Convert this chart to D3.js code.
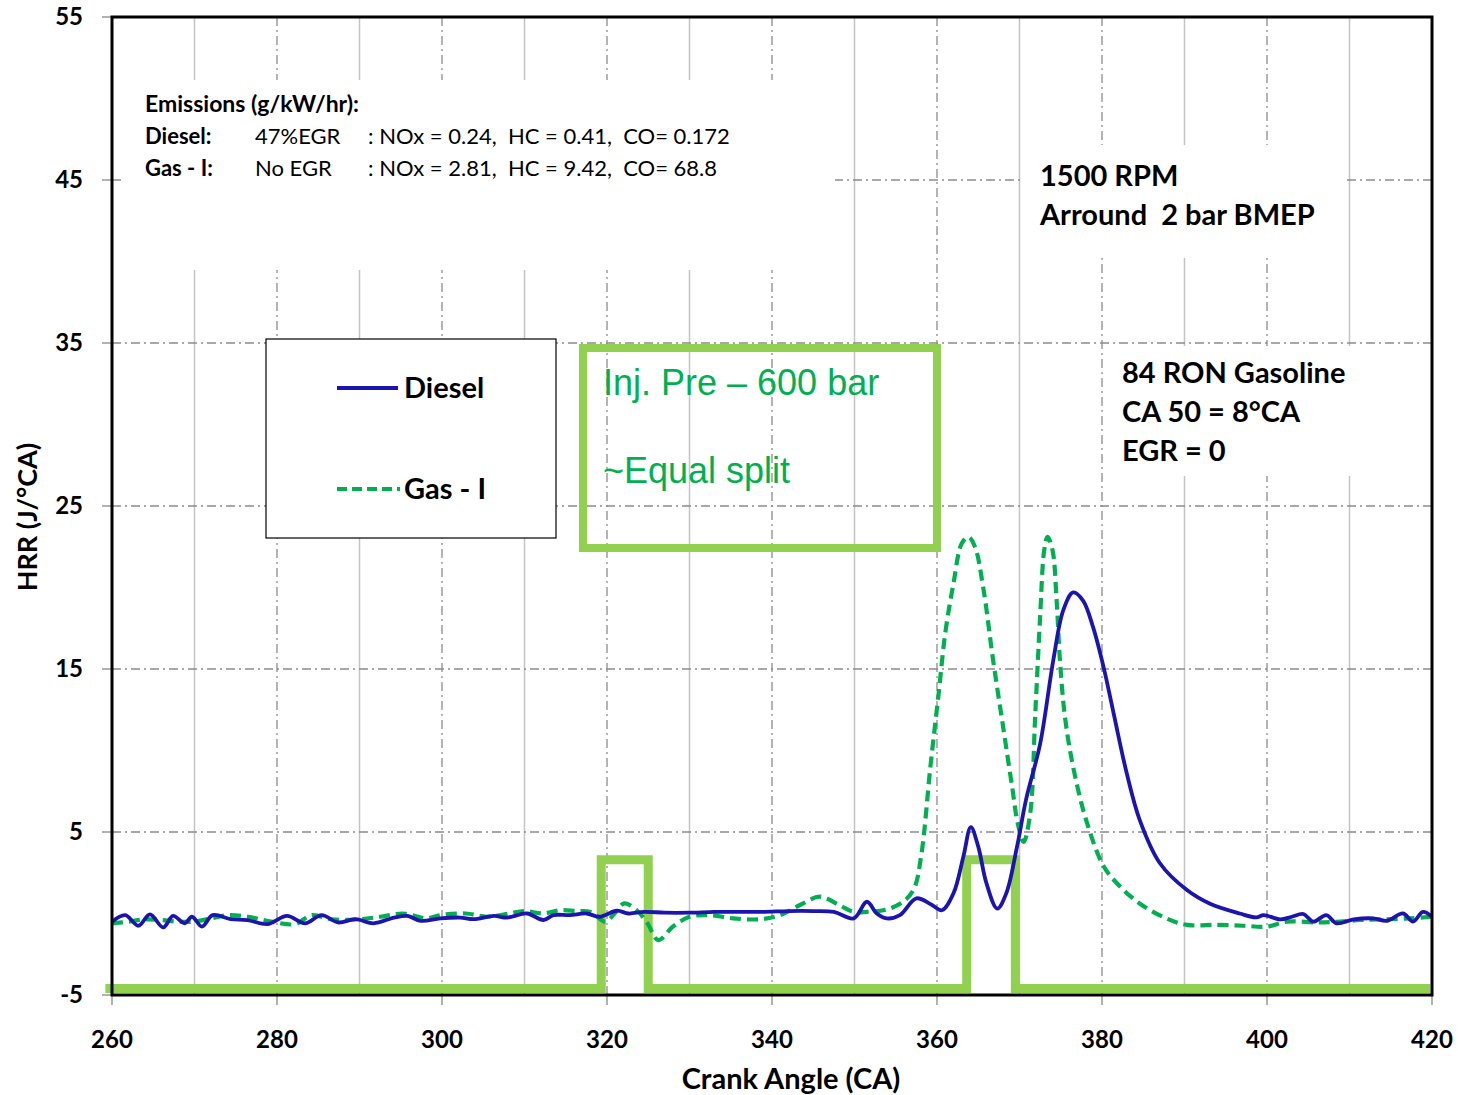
<!DOCTYPE html>
<html>
<head>
<meta charset="utf-8">
<script src="https://cdn.jsdelivr.net/npm/d3@7"></script>
<style>
  body { margin: 0; background: #fff; }
  text { font-family: Lato, "Open Sans", sans-serif; }
</style>
</head>
<body>
<div id="root"></div>
<script>
// crank angle ticks and HRR ticks
const xTicks = [260, 280, 300, 320, 340, 360, 380, 400, 420];
const yTicks = [-5, 5, 15, 25, 35, 45, 55];
const xGridSolid = [270, 290, 310, 330, 350, 370, 390, 410];
const xGridDash = [280, 300, 320, 340, 360, 380, 400];
const yGrid = [5, 15, 25, 35, 45];

// [CA, HRR]
const diesel = [
  [260, -0.5], [261.6, -0.1], [263.2, -0.75], [264.6, -0.05], [266.2, -0.85], [267.4, -0.15],
  [268.8, -0.6], [269.7, -0.2], [270.9, -0.8], [272.2, -0.1], [274.4, -0.35], [276.4, -0.4],
  [278.9, -0.65], [281.2, -0.15], [283.4, -0.6], [285.4, -0.1], [287.4, -0.55], [289.5, -0.35],
  [291.7, -0.6], [294.2, -0.25], [295.8, -0.15], [297.4, -0.45], [299.8, -0.3], [302.2, -0.25],
  [303.8, -0.35], [306.3, -0.15], [307.9, -0.25], [310.3, 0.0], [312.3, -0.4], [313.5, -0.1],
  [315.5, -0.1], [317.5, 0.0], [319.1, -0.2], [321.2, 0.17], [322.6, 0.0], [324.5, 0.1],
  [327, 0.05], [330, 0.05], [333, 0.1], [336, 0.1], [339, 0.1], [342, 0.15], [345, 0.15],
  [347.5, 0.1], [349.9, -0.3], [351.5, 0.72], [352.7, 0.0], [353.9, -0.3], [355.5, -0.1],
  [357.5, 0.93], [359.3, 0.55], [360.6, 0.2], [362.0, 1.24], [363.2, 3.5], [364.1, 5.3],
  [365.0, 4.1], [366.0, 1.85], [367.3, 0.3], [368.4, 1.24], [369.7, 4.1], [370.8, 7.0],
  [372.5, 10.4], [374.1, 15.55], [375.3, 18.6], [376.5, 19.7], [377.7, 19.2], [378.9, 17.6],
  [380.2, 15.1], [381.4, 12.3], [383.0, 8.6], [384.6, 5.7], [387.0, 3.1], [390.3, 1.44],
  [393.1, 0.6], [396.7, 0.0], [398.7, -0.24], [399.6, -0.1], [401.6, -0.36], [403, -0.2],
  [404.4, -0.03], [405.6, -0.5], [407.2, -0.1], [408.4, -0.6], [410.5, -0.36], [412.9, -0.3],
  [414.5, -0.45], [416.5, 0.0], [417.7, -0.5], [418.9, 0.1], [420, -0.2]
];

const gas = [
  [260, -0.6], [262, -0.5], [264, -0.36], [266, -0.4], [268, -0.5], [270, -0.5], [272, -0.3],
  [274.1, -0.1], [276.5, -0.2], [279.3, -0.5], [282.2, -0.65], [284.2, -0.1], [286.6, -0.36],
  [289.9, -0.36], [292.5, -0.2], [295.3, 0.0], [298.1, -0.3], [299.8, -0.1], [302.9, 0.0],
  [305.4, -0.2], [308.2, 0.0], [309.9, 0.15], [312.3, 0.0], [314.3, 0.2], [316.3, 0.15],
  [318, 0.1], [319.8, -0.5], [321, 0.05], [322.1, 0.62], [323.6, 0.2], [324.9, -0.6],
  [326.2, -1.63], [328, -0.8], [330, -0.2], [332.4, -0.1], [335.3, -0.3], [338.6, -0.35],
  [341, -0.1], [343.4, 0.52], [345.8, 1.03], [348.2, 0.5], [349.9, 0.1], [351.5, 0.1],
  [353.9, 0.25], [355.9, 0.72], [357.2, 1.5], [358.1, 3.6], [359.2, 9.0], [360.2, 13.5],
  [361, 17.2], [362, 20.25], [363, 22.7], [363.8, 23.1], [364.6, 22.5], [365.6, 20.0],
  [366.8, 15.55], [368, 11.5], [369.1, 7.8], [369.8, 5.5], [370.5, 4.4], [371.3, 6.15],
  [371.9, 12.1], [372.5, 18.2], [373, 22.3], [373.4, 23.1], [374, 22.3], [374.5, 19.2],
  [374.9, 15.55], [375.5, 12.1], [376.5, 9.0], [378.1, 5.7], [380.2, 2.9], [382.2, 1.65],
  [384.6, 0.6], [387.8, -0.3], [390.3, -0.7], [393.9, -0.7], [397.1, -0.75], [400, -0.8],
  [402.4, -0.5], [406.1, -0.55], [408.9, -0.5], [411.3, -0.4], [414.1, -0.36], [417.4, -0.3],
  [419.9, -0.2]
];

// injection signal trace
const injection = [
  [259.2, -4.6], [319.3, -4.6], [319.3, 3.3], [325, 3.3], [325, -4.6], [363.6, -4.6],
  [363.6, 3.3], [369.5, 3.3], [369.5, -4.6], [419.8, -4.6]
];

const emissionRows = [
  ["Diesel:", "47%EGR", ": NOx = 0.24,  HC = 0.41,  CO= 0.172"],
  ["Gas - I:", "No EGR", ": NOx = 2.81,  HC = 9.42,  CO= 68.8"]
];

const W = 1458, H = 1095;
const svg = d3.select("#root").append("svg").attr("width", W).attr("height", H);

const x = d3.scaleLinear().domain([260, 420]).range([112, 1432]);
const y = d3.scaleLinear().domain([-5, 55]).range([995, 17]);

const grid = svg.append("g");
grid.selectAll(".vs").data(xGridSolid).enter().append("line")
  .attr("x1", d => x(d)).attr("x2", d => x(d)).attr("y1", y(55)).attr("y2", y(-5))
  .attr("stroke", "#c4c4c4").attr("stroke-width", 1.5);
grid.selectAll(".vd").data(xGridDash).enter().append("line")
  .attr("x1", d => x(d)).attr("x2", d => x(d)).attr("y1", y(55)).attr("y2", y(-5))
  .attr("stroke", "#8c8c8c").attr("stroke-width", 1.3).attr("stroke-dasharray", "9,4,2,4");
grid.selectAll(".h").data(yGrid).enter().append("line")
  .attr("x1", x(260)).attr("x2", x(420)).attr("y1", d => y(d)).attr("y2", d => y(d))
  .attr("stroke", "#8c8c8c").attr("stroke-width", 1.3).attr("stroke-dasharray", "9,4,2,4");

// white text boxes hide grid
svg.append("rect").attr("x", 123).attr("y", 80).attr("width", 712).attr("height", 190).attr("fill", "#fff");
svg.append("rect").attr("x", 1024).attr("y", 145).attr("width", 320).attr("height", 113).attr("fill", "#fff");
svg.append("rect").attr("x", 1110).attr("y", 346).attr("width", 320).attr("height", 130).attr("fill", "#fff");

// ticks
svg.append("g").selectAll("line").data(yTicks).enter().append("line")
  .attr("x1", 102).attr("x2", 112).attr("y1", d => y(d)).attr("y2", d => y(d))
  .attr("stroke", "#888").attr("stroke-width", 1.3);
svg.append("g").selectAll("line").data(xTicks).enter().append("line")
  .attr("x1", d => x(d)).attr("x2", d => x(d)).attr("y1", 995).attr("y2", 1005)
  .attr("stroke", "#888").attr("stroke-width", 1.3);

const line = d3.line().x(d => x(d[0])).y(d => y(d[1]));

svg.append("path").datum(injection)
  .attr("d", line)
  .attr("fill", "none").attr("stroke", "#92D050").attr("stroke-width", 9)
  .attr("stroke-linejoin", "miter");

const smooth = d3.line().x(d => x(d[0])).y(d => y(d[1])).curve(d3.curveCatmullRom.alpha(0.5));

svg.append("path").datum(gas)
  .attr("d", smooth)
  .attr("fill", "none").attr("stroke", "#00B050").attr("stroke-width", 4.2)
  .attr("stroke-dasharray", "11,6");

svg.append("path").datum(diesel)
  .attr("d", smooth)
  .attr("fill", "none").attr("stroke", "#1C14B0").attr("stroke-width", 3.8);

// frame
svg.append("rect").attr("x", 112).attr("y", 17).attr("width", 1320).attr("height", 978)
  .attr("fill", "none").attr("stroke", "#000").attr("stroke-width", 3);

// tick labels
svg.append("g").selectAll("text").data(yTicks).enter().append("text")
  .attr("x", 83).attr("y", d => y(d)).attr("dy", "0.35em")
  .attr("text-anchor", "end").attr("font-weight", "bold").attr("font-size", 24)
  .text(d => d);
svg.append("g").selectAll("text").data(xTicks).enter().append("text")
  .attr("x", d => x(d)).attr("y", 1048)
  .attr("text-anchor", "middle").attr("font-weight", "bold").attr("font-size", 24)
  .text(d => d);

svg.append("text").attr("x", 791).attr("y", 1089).attr("text-anchor", "middle")
  .attr("font-weight", "bold").attr("font-size", 29).text("Crank Angle (CA)");
svg.append("text").attr("transform", "translate(37,517) rotate(-90)").attr("text-anchor", "middle")
  .attr("font-weight", "bold").attr("font-size", 27).text("HRR (J/°CA)");

// legend
const lg = svg.append("g");
lg.append("rect").attr("x", 266).attr("y", 339).attr("width", 290).attr("height", 199)
  .attr("fill", "#fff").attr("stroke", "#000").attr("stroke-width", 1.2);
lg.append("line").attr("x1", 337).attr("x2", 398).attr("y1", 388).attr("y2", 388)
  .attr("stroke", "#1C14B0").attr("stroke-width", 3.8);
lg.append("line").attr("x1", 337).attr("x2", 400).attr("y1", 489).attr("y2", 489)
  .attr("stroke", "#00B050").attr("stroke-width", 4.2).attr("stroke-dasharray", "10,5");
lg.append("text").attr("x", 404).attr("y", 398).attr("font-weight", "bold").attr("font-size", 29).text("Diesel");
lg.append("text").attr("x", 404).attr("y", 499).attr("font-weight", "bold").attr("font-size", 29).text("Gas - I");

// injection annotation box
svg.append("rect").attr("x", 583).attr("y", 348).attr("width", 354).attr("height", 200)
  .attr("fill", "none").attr("stroke", "#92D050").attr("stroke-width", 8);
svg.append("text").attr("x", 603).attr("y", 395).attr("fill", "#00B050")
  .style("font-family", "'Liberation Sans', Arial, sans-serif").attr("font-size", 36)
  .text("Inj. Pre – 600 bar");
svg.append("text").attr("x", 603).attr("y", 483).attr("fill", "#00B050")
  .style("font-family", "'Liberation Sans', Arial, sans-serif").attr("font-size", 36)
  .text("~Equal split");

// emissions
svg.append("text").attr("x", 145).attr("y", 112).attr("font-weight", "bold").attr("font-size", 23)
  .text("Emissions (g/kW/hr):");
emissionRows.forEach((r, i) => {
  const yy = 144 + i * 32;
  svg.append("text").attr("x", 145).attr("y", yy).attr("font-weight", "bold").attr("font-size", 22).text(r[0]);
  svg.append("text").attr("x", 255).attr("y", yy).attr("font-size", 22).text(r[1]);
  svg.append("text").attr("x", 368).attr("y", yy).attr("font-size", 22).style("white-space", "pre").text(r[2]);
});

// run conditions
const notes = [
  [1040, 186, "1500 RPM"], [1040, 225, "Arround  2 bar BMEP"],
  [1122, 383, "84 RON Gasoline"], [1122, 422, "CA 50 = 8°CA"], [1122, 461, "EGR = 0"]
];
svg.append("g").selectAll("text").data(notes).enter().append("text")
  .attr("x", d => d[0]).attr("y", d => d[1]).attr("font-weight", "bold").attr("font-size", 29)
  .style("white-space", "pre").text(d => d[2]);
</script>
</body>
</html>
